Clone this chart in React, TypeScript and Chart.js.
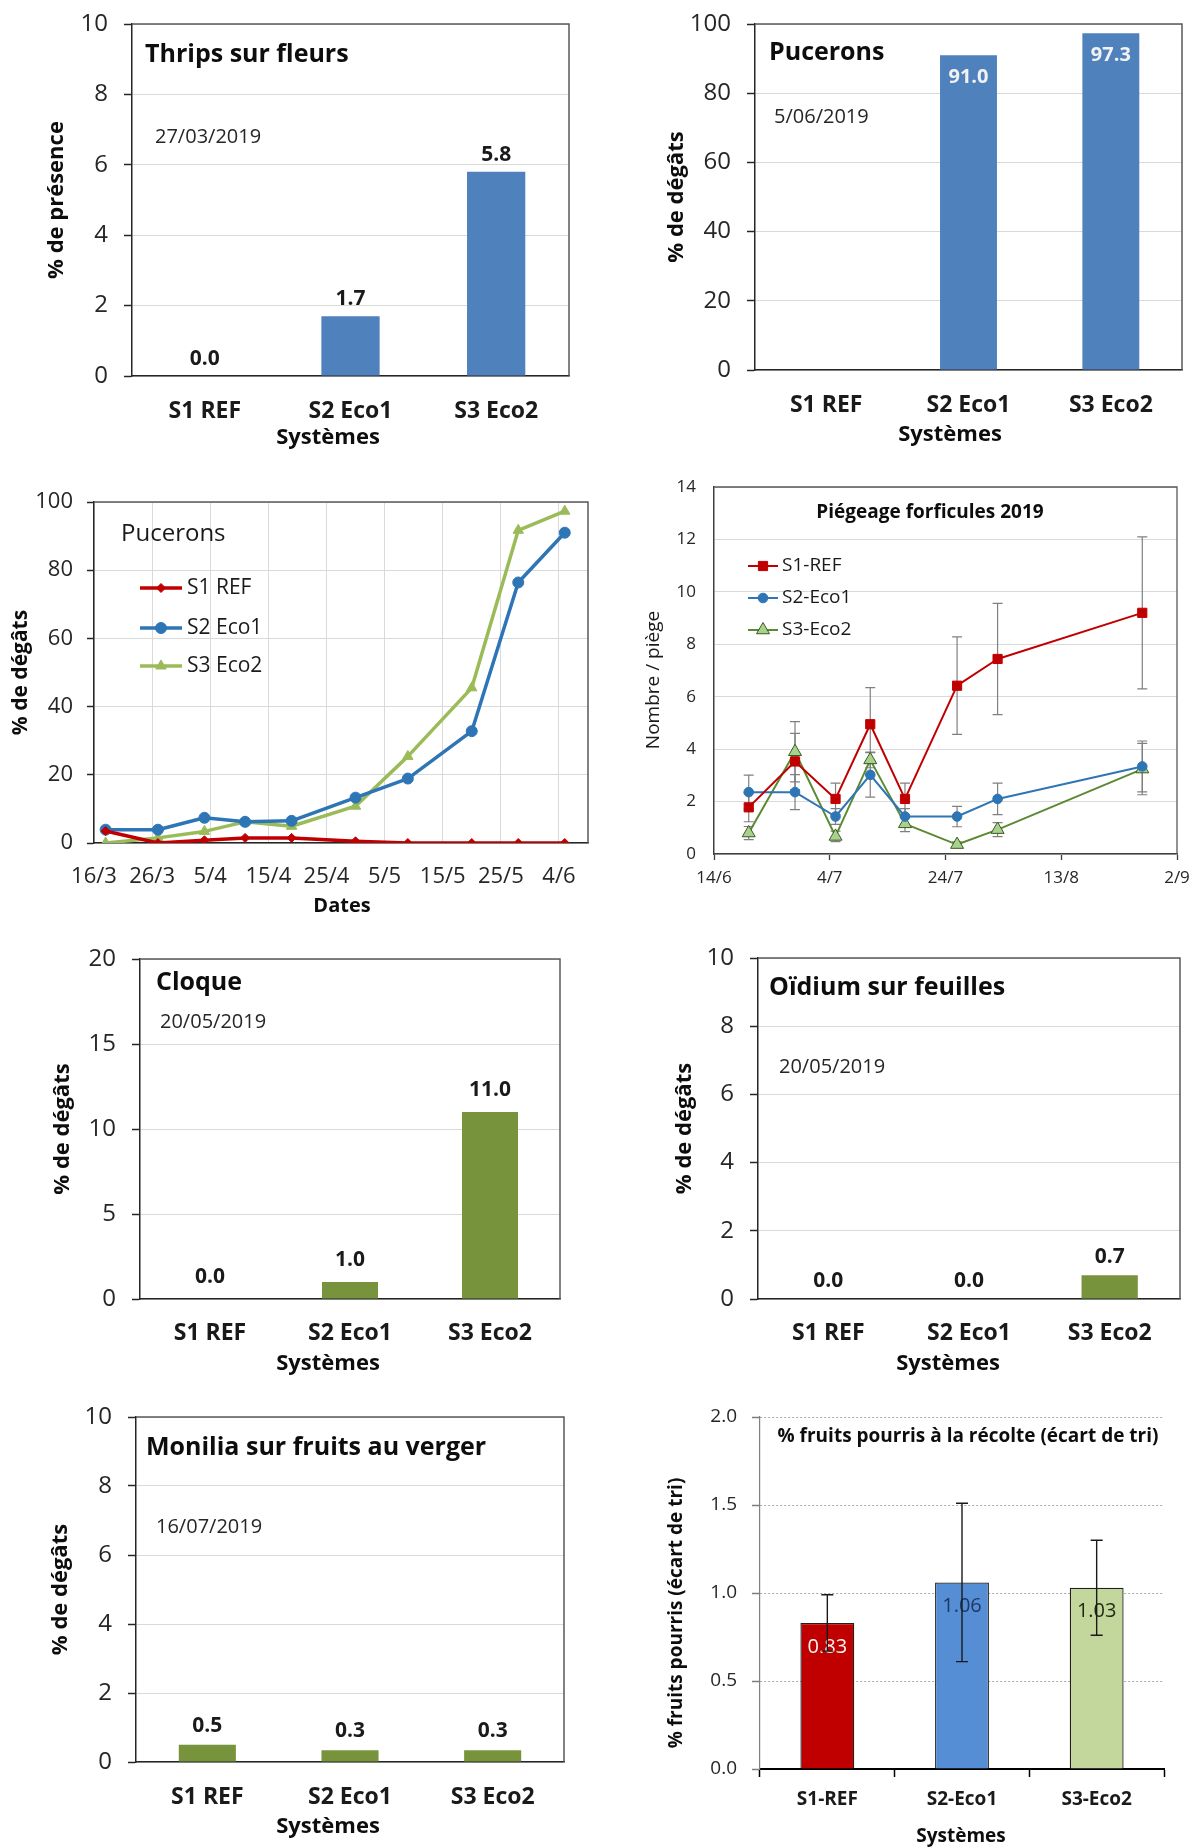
import React, { useEffect, useRef } from 'react';
import { Chart, registerables } from 'chart.js';

Chart.register(...registerables);

const FAMILY = '"Open Sans", "DejaVu Sans", sans-serif';
Chart.defaults.font.family = FAMILY;
Chart.defaults.color = '#262626';

/* ------------------------------------------------------------------ */
/* DATA                                                                */
/* ------------------------------------------------------------------ */
const systemLabels = ['S1 REF', 'S2 Eco1', 'S3 Eco2'];
const systemLabelsHyphen = ['S1-REF', 'S2-Eco1', 'S3-Eco2'];

const thripsValues = [0.0, 1.7, 5.8];
const aphidDamageValues = [0.0, 91.0, 97.3];
const leafCurlValues = [0.0, 1.0, 11.0];
const powderyValues = [0.0, 0.0, 0.7];
const moniliaValues = [0.5, 0.34, 0.34];
const rotValues = [0.83, 1.06, 1.03];
const rotErrors = [0.16, 0.45, 0.27];

const aphidDates = ['2019-03-18', '2019-03-27', '2019-04-04', '2019-04-11', '2019-04-19', '2019-04-30', '2019-05-09', '2019-05-20', '2019-05-28', '2019-06-05'];
const aphidS1Ref = [3.5, 0.0, 0.8, 1.5, 1.5, 0.5, 0.0, 0.0, 0.0, 0.0];
const aphidS2Eco1 = [3.9, 3.9, 7.4, 6.2, 6.5, 13.3, 18.9, 32.8, 76.4, 91.0];
const aphidS3Eco2 = [0.0, 1.5, 3.4, 6.2, 4.9, 10.8, 25.4, 45.5, 91.7, 97.3];
const aphidAxisStart = '2019-03-16';
const aphidAxisEnd = '2019-06-09';
const aphidTickLabels = ['16/3', '26/3', '5/4', '15/4', '25/4', '5/5', '15/5', '25/5', '4/6'];

const earwigDates = ['2019-06-20', '2019-06-28', '2019-07-05', '2019-07-11', '2019-07-17', '2019-07-26', '2019-08-02', '2019-08-27'];
const earwigS1Ref = [1.78, 3.53, 2.1, 4.95, 2.1, 6.42, 7.44, 9.2];
const earwigS1RefErr = [0.55, 1.07, 0.6, 1.4, 0.6, 1.86, 2.12, 2.9];
const earwigS2Eco1 = [2.36, 2.36, 1.43, 3.02, 1.43, 1.43, 2.1, 3.34];
const earwigS2Eco1Err = [0.65, 0.67, 0.3, 0.85, 0.3, 0.39, 0.6, 0.97];
const earwigS3Eco2 = [0.8, 3.9, 0.67, 3.59, 1.15, 0.36, 0.93, 3.24];
const earwigS3Eco2Err = [0.25, 1.15, 0.2, 0.3, 0.3, 0.1, 0.27, 0.98];
const earwigAxisStart = '2019-06-14';
const earwigAxisEnd = '2019-09-02';
const earwigTickLabels = ['14/6', '4/7', '24/7', '13/8', '2/9'];

/* ------------------------------------------------------------------ */
/* HELPERS                                                             */
/* ------------------------------------------------------------------ */
type Cell = { x: number; y: number; w: number; h: number };
type Plot = { l: number; t: number; r: number; b: number };
type TextItem = { text: string; x: number; y: number; size: number; bold?: boolean; color?: string; align?: CanvasTextAlign; rotate?: boolean };

const DAY = 86400000;
const toDay = (iso: string) => {
  const [y, m, d] = iso.split('-').map(Number);
  return Date.UTC(y, m - 1, d) / DAY;
};
const toPoints = (dates: string[], values: number[], start: string) =>
  dates.map((d, i) => ({ x: toDay(d) - toDay(start), y: values[i] }));

const cssFont = (size: number, bold = false) => `${bold ? 'bold' : 'normal'} ${size}px ${FAMILY}`;
const chartFont = (size: number, bold = false) => ({ family: FAMILY, size, weight: bold ? 'bold' : 'normal', lineHeight: 1.2 });

function geometry(cell: Cell, plot: Plot, yTitleCX: number, yTitleSize: number) {
  const lh = yTitleSize * 1.2;
  const padLeft = yTitleCX - cell.x - lh / 2;
  return {
    padding: { left: padLeft, top: plot.t - cell.y, right: cell.x + cell.w - plot.r, bottom: 0 },
    yWidth: plot.l - cell.x - padLeft,
    xHeight: cell.y + cell.h - plot.b,
  };
}

const base = (padding: any) => ({
  responsive: false,
  maintainAspectRatio: false,
  animation: false,
  events: [],
  layout: { padding },
  plugins: { legend: { display: false }, tooltip: { enabled: false } },
});

function drawMarker(ctx: CanvasRenderingContext2D, style: string, x: number, y: number, r: number, fill: string, stroke: string, bw: number) {
  ctx.save();
  ctx.beginPath();
  if (style === 'circle') ctx.arc(x, y, r, 0, Math.PI * 2);
  else if (style === 'rect') {
    const s = r * Math.SQRT1_2;
    ctx.rect(x - s, y - s, 2 * s, 2 * s);
  } else if (style === 'rectRot') {
    ctx.moveTo(x - r, y);
    ctx.lineTo(x, y - r);
    ctx.lineTo(x + r, y);
    ctx.lineTo(x, y + r);
    ctx.closePath();
  } else {
    ctx.moveTo(x, y - r);
    ctx.lineTo(x + 0.866 * r, y + 0.5 * r);
    ctx.lineTo(x - 0.866 * r, y + 0.5 * r);
    ctx.closePath();
  }
  ctx.fillStyle = fill;
  ctx.fill();
  if (bw > 0) {
    ctx.lineWidth = bw;
    ctx.strokeStyle = stroke;
    ctx.stroke();
  }
  ctx.restore();
}

function textPlugin(cell: Cell, items: TextItem[]) {
  return {
    id: 'texts',
    afterDraw(chart: any) {
      const ctx: CanvasRenderingContext2D = chart.ctx;
      items.forEach((t) => {
        ctx.save();
        ctx.font = cssFont(t.size, t.bold);
        ctx.fillStyle = t.color || '#0d0d0d';
        ctx.textAlign = t.rotate ? 'center' : t.align || 'left';
        ctx.textBaseline = 'middle';
        ctx.translate(t.x - cell.x, t.y - cell.y);
        if (t.rotate) ctx.rotate(-Math.PI / 2);
        ctx.fillText(t.text, 0, 0);
        ctx.restore();
      });
    },
  };
}

function framePlugin(color: string, width: number) {
  return {
    id: 'frame',
    beforeDatasetsDraw(chart: any) {
      const { ctx, chartArea: a } = chart;
      ctx.save();
      ctx.strokeStyle = color;
      ctx.lineWidth = width;
      ctx.beginPath();
      ctx.moveTo(a.left, a.top);
      ctx.lineTo(a.right, a.top);
      ctx.lineTo(a.right, a.bottom);
      ctx.stroke();
      ctx.restore();
    },
  };
}

function barValueLabels(o: { decimals: number; inside: boolean; offset: number; size: number; bold: boolean; colors: string[] }) {
  return {
    id: 'barValues',
    afterDatasetsDraw(chart: any) {
      const ctx: CanvasRenderingContext2D = chart.ctx;
      const meta = chart.getDatasetMeta(0);
      const data = chart.data.datasets[0].data as number[];
      ctx.save();
      ctx.font = cssFont(o.size, o.bold);
      ctx.textAlign = 'center';
      ctx.textBaseline = 'middle';
      meta.data.forEach((el: any, i: number) => {
        // labels drawn inside a bar have no room when the bar is empty
        if (o.inside && Number(data[i]) === 0) return;
        const y = o.inside ? el.y + o.offset : el.y - o.offset;
        ctx.fillStyle = o.colors[i % o.colors.length];
        ctx.fillText(Number(data[i]).toFixed(o.decimals), el.x, y);
      });
      ctx.restore();
    },
  };
}

function errorBarPlugin(errors: number[][], color: string, width: number, cap: number, hook: string) {
  const draw = (chart: any) => {
    const ctx: CanvasRenderingContext2D = chart.ctx;
    const ys = chart.scales.y;
    ctx.save();
    ctx.strokeStyle = color;
    ctx.lineWidth = width;
    chart.data.datasets.forEach((ds: any, di: number) => {
      const errs = errors[di];
      if (!errs) return;
      const meta = chart.getDatasetMeta(di);
      meta.data.forEach((el: any, i: number) => {
        const raw = ds.data[i];
        const v = typeof raw === 'number' ? raw : raw.y;
        const e = errs[i];
        if (!e) return;
        const x = el.x;
        const y1 = ys.getPixelForValue(v + e);
        const y2 = ys.getPixelForValue(v - e);
        ctx.beginPath();
        ctx.moveTo(x, y1);
        ctx.lineTo(x, y2);
        ctx.moveTo(x - cap, y1);
        ctx.lineTo(x + cap, y1);
        ctx.moveTo(x - cap, y2);
        ctx.lineTo(x + cap, y2);
        ctx.stroke();
      });
    });
    ctx.restore();
  };
  return { id: 'errorBars', [hook]: draw };
}

function seriesLegend(cell: Cell, g: { x1: number; x2: number; tx: number; ys: number[]; size: number }) {
  return {
    id: 'seriesLegend',
    afterDraw(chart: any) {
      const ctx: CanvasRenderingContext2D = chart.ctx;
      chart.data.datasets.forEach((ds: any, i: number) => {
        const y = g.ys[i] - cell.y;
        const x1 = g.x1 - cell.x;
        const x2 = g.x2 - cell.x;
        ctx.save();
        ctx.strokeStyle = ds.borderColor;
        ctx.lineWidth = ds.borderWidth;
        ctx.beginPath();
        ctx.moveTo(x1, y);
        ctx.lineTo(x2, y);
        ctx.stroke();
        ctx.restore();
        drawMarker(ctx, ds.pointStyle, (x1 + x2) / 2, y, ds.pointRadius, ds.pointBackgroundColor, ds.pointBorderColor, ds.pointBorderWidth);
        ctx.save();
        ctx.font = cssFont(g.size);
        ctx.fillStyle = '#1a1a1a';
        ctx.textAlign = 'left';
        ctx.textBaseline = 'middle';
        ctx.fillText(ds.label, g.tx - cell.x, y);
        ctx.restore();
      });
    },
  };
}

/* ------------------------------------------------------------------ */
/* BAR PANEL BUILDER                                                   */
/* ------------------------------------------------------------------ */
function barConfig(s: any) {
  const g = geometry(s.cell, s.plot, s.yTitleCX, s.yTitleSize);
  const xTl = s.xTickMarks ? 8 : 0;
  const texts: TextItem[] = [...s.texts];
  if (s.yTitleCY != null) {
    texts.push({ text: s.yTitle, x: s.yTitleCX, y: s.yTitleCY, size: s.yTitleSize, bold: true, rotate: true });
  }
  const plugins: any[] = [];
  if (s.frame !== false) plugins.push(framePlugin('#595959', 1.5));
  plugins.push(barValueLabels(s.valueLabels));
  if (s.errors) plugins.push(errorBarPlugin([s.errors], '#1a1a1a', 1.4, 6, 'afterDatasetsDraw'));
  plugins.push(textPlugin(s.cell, texts));

  const yTicks: any = { stepSize: s.yStep, font: chartFont(s.yTickSize), color: '#262626', padding: s.yTickPad };
  if (s.yDecimals != null) yTicks.callback = (v: any) => Number(v).toFixed(s.yDecimals);

  return {
    type: 'bar',
    data: {
      labels: s.labels,
      datasets: [
        {
          data: s.values,
          backgroundColor: s.colors,
          borderColor: s.barBorder || 'rgba(0,0,0,0)',
          borderWidth: s.barBorder ? 1.3 : 0,
          barPercentage: 0.4,
          categoryPercentage: 1,
        },
      ],
    },
    options: {
      ...base(g.padding),
      scales: {
        x: {
          type: 'category',
          offset: true,
          ticks: {
            font: chartFont(s.xTickSize, true),
            color: '#1a1a1a',
            padding: s.xTickCY - s.plot.b - xTl - s.xTickSize * 0.6,
            maxRotation: 0,
            minRotation: 0,
            autoSkip: false,
          },
          grid: s.xTickMarks
            ? { display: true, offset: true, drawOnChartArea: false, drawTicks: true, tickLength: 8, tickColor: '#000', tickWidth: 1.5, color: '#000' }
            : { display: false, drawTicks: false },
          border: { display: true, color: s.xBorderColor || '#262626', width: s.xBorderWidth || 1.5 },
          afterFit: (sc: any) => {
            sc.height = g.xHeight;
            sc.paddingLeft = 0;
            sc.paddingRight = 0;
          },
        },
        y: {
          type: 'linear',
          min: 0,
          max: s.yMax,
          ticks: yTicks,
          grid: {
            color: s.gridColor || '#D9D9D9',
            lineWidth: 1,
            drawTicks: true,
            tickLength: 8,
            tickColor: s.yTickColor || '#262626',
            tickWidth: 1.5,
          },
          border: { display: true, color: s.yBorderColor || '#262626', width: s.yBorderWidth || 1.5, dash: s.gridDash || [] },
          title: { display: s.yTitleCY == null, text: s.yTitle, font: chartFont(s.yTitleSize, true), color: '#0d0d0d', padding: 0 },
          afterFit: (sc: any) => {
            sc.width = g.yWidth;
            sc.paddingTop = 0;
            sc.paddingBottom = 0;
          },
        },
      },
    },
    plugins,
  };
}

/* ------------------------------------------------------------------ */
/* PANELS                                                              */
/* ------------------------------------------------------------------ */
const cellA: Cell = { x: 0, y: 0, w: 595, h: 460 };
const cellB: Cell = { x: 595, y: 0, w: 595, h: 460 };
const cellC: Cell = { x: 0, y: 460, w: 595, h: 460 };
const cellD: Cell = { x: 595, y: 460, w: 595, h: 460 };
const cellE: Cell = { x: 0, y: 920, w: 595, h: 460 };
const cellF: Cell = { x: 595, y: 920, w: 595, h: 460 };
const cellG: Cell = { x: 0, y: 1380, w: 595, h: 468 };
const cellH: Cell = { x: 595, y: 1380, w: 595, h: 468 };

const BLUE = '#4F81BD';
const GREEN = '#77933C';

const excelBarStyle = {
  yTickSize: 24,
  yTickPad: 16,
  yTitleSize: 22,
  xTickSize: 23,
};

function makeThrips() {
  return barConfig({
    ...excelBarStyle,
    cell: cellA,
    plot: { l: 132, t: 24, r: 569, b: 376 },
    labels: systemLabels,
    values: thripsValues,
    colors: [BLUE, BLUE, BLUE],
    yMax: 10,
    yStep: 2,
    yTitle: '% de présence',
    yTitleCX: 57,
    xTickCY: 411,
    valueLabels: { decimals: 1, inside: false, offset: 17, size: 21, bold: true, colors: ['#1a1a1a'] },
    texts: [
      { text: 'Thrips sur fleurs', x: 145, y: 55, size: 25, bold: true },
      { text: '27/03/2019', x: 155, y: 137, size: 20, color: '#262626' },
      { text: 'Systèmes', x: 328, y: 438, size: 22, bold: true, align: 'center' },
    ],
  });
}

function makeAphidBars() {
  return barConfig({
    ...excelBarStyle,
    cell: cellB,
    plot: { l: 755, t: 24, r: 1182, b: 370 },
    labels: systemLabels,
    values: aphidDamageValues,
    colors: [BLUE, BLUE, BLUE],
    yMax: 100,
    yStep: 20,
    yTitle: '% de dégâts',
    yTitleCX: 677,
    xTickCY: 405,
    valueLabels: { decimals: 1, inside: true, offset: 22, size: 20, bold: true, colors: ['#F2F2F2'] },
    texts: [
      { text: 'Pucerons', x: 769, y: 53, size: 25, bold: true },
      { text: '5/06/2019', x: 774, y: 117, size: 20, color: '#262626' },
      { text: 'Systèmes', x: 950, y: 435, size: 22, bold: true, align: 'center' },
    ],
  });
}

function makeLeafCurl() {
  return barConfig({
    ...excelBarStyle,
    cell: cellE,
    plot: { l: 140, t: 959, r: 560, b: 1299 },
    labels: systemLabels,
    values: leafCurlValues,
    colors: [GREEN, GREEN, GREEN],
    yMax: 20,
    yStep: 5,
    yTitle: '% de dégâts',
    yTitleCX: 63,
    xTickCY: 1333,
    valueLabels: { decimals: 1, inside: false, offset: 22, size: 21, bold: true, colors: ['#1a1a1a'] },
    texts: [
      { text: 'Cloque', x: 156, y: 983, size: 25, bold: true },
      { text: '20/05/2019', x: 160, y: 1022, size: 20, color: '#262626' },
      { text: 'Systèmes', x: 328, y: 1364, size: 22, bold: true, align: 'center' },
    ],
  });
}

function makePowdery() {
  return barConfig({
    ...excelBarStyle,
    cell: cellF,
    plot: { l: 758, t: 958, r: 1180, b: 1299 },
    labels: systemLabels,
    values: powderyValues,
    colors: [GREEN, GREEN, GREEN],
    yMax: 10,
    yStep: 2,
    yTitle: '% de dégâts',
    yTitleCX: 685,
    xTickCY: 1333,
    valueLabels: { decimals: 1, inside: false, offset: 18, size: 21, bold: true, colors: ['#1a1a1a'] },
    texts: [
      { text: 'Oïdium sur feuilles', x: 769, y: 988, size: 25, bold: true },
      { text: '20/05/2019', x: 779, y: 1067, size: 20, color: '#262626' },
      { text: 'Systèmes', x: 948, y: 1364, size: 22, bold: true, align: 'center' },
    ],
  });
}

function makeMonilia() {
  return barConfig({
    ...excelBarStyle,
    cell: cellG,
    plot: { l: 136, t: 1417, r: 564, b: 1762 },
    labels: systemLabels,
    values: moniliaValues,
    colors: [GREEN, GREEN, GREEN],
    yMax: 10,
    yStep: 2,
    yTitle: '% de dégâts',
    yTitleCX: 61,
    xTickCY: 1797,
    valueLabels: { decimals: 1, inside: false, offset: 19, size: 21, bold: true, colors: ['#1a1a1a'] },
    texts: [
      { text: 'Monilia sur fruits au verger', x: 146, y: 1448, size: 25, bold: true },
      { text: '16/07/2019', x: 156, y: 1527, size: 20, color: '#262626' },
      { text: 'Systèmes', x: 328, y: 1827, size: 22, bold: true, align: 'center' },
    ],
  });
}

function makeRot() {
  return barConfig({
    cell: cellH,
    plot: { l: 760, t: 1417, r: 1164, b: 1769 },
    labels: systemLabelsHyphen,
    values: rotValues,
    errors: rotErrors,
    colors: ['#C00000', '#558ED5', '#C3D69B'],
    barBorder: '#1f1f1f',
    frame: false,
    yMax: 2,
    yStep: 0.5,
    yDecimals: 1,
    yTickSize: 19,
    yTickPad: 15,
    yTickColor: '#7F7F7F',
    yBorderColor: '#7F7F7F',
    yBorderWidth: 1.2,
    gridColor: '#A6A6A6',
    gridDash: [2, 2],
    yTitle: '% fruits pourris (écart de tri)',
    yTitleSize: 19,
    yTitleCX: 677,
    yTitleCY: 1613,
    xTickSize: 19,
    xTickCY: 1800,
    xTickMarks: true,
    xBorderColor: '#000',
    xBorderWidth: 2,
    valueLabels: { decimals: 2, inside: true, offset: 24, size: 20, bold: false, colors: ['#F5F5F5', '#1F3864', '#1E2A14'] },
    texts: [
      { text: '% fruits pourris à la récolte (écart de tri)', x: 968, y: 1437, size: 19, bold: true, align: 'center' },
      { text: 'Systèmes', x: 961, y: 1837, size: 19, bold: true, align: 'center' },
    ],
  });
}

function makeAphidLines() {
  const cell = cellC;
  const plot: Plot = { l: 94, t: 502, r: 591, b: 843 };
  const g = geometry(cell, plot, 21, 21);
  const common = { borderWidth: 3.5, borderJoinStyle: 'round', borderCapStyle: 'round', pointBorderWidth: 1, tension: 0, fill: false };
  return {
    type: 'line',
    data: {
      datasets: [
        { ...common, label: 'S1 REF', data: toPoints(aphidDates, aphidS1Ref, aphidAxisStart), borderColor: '#C00000', backgroundColor: '#C00000', pointStyle: 'rectRot', pointRadius: 4.5, pointBackgroundColor: '#C00000', pointBorderColor: '#C00000' },
        { ...common, label: 'S2 Eco1', data: toPoints(aphidDates, aphidS2Eco1, aphidAxisStart), borderColor: '#2E75B6', backgroundColor: '#2E75B6', pointStyle: 'circle', pointRadius: 5.5, pointBackgroundColor: '#2E75B6', pointBorderColor: '#2E75B6' },
        { ...common, label: 'S3 Eco2', data: toPoints(aphidDates, aphidS3Eco2, aphidAxisStart), borderColor: '#9BBB59', backgroundColor: '#9BBB59', pointStyle: 'triangle', pointRadius: 6, pointBackgroundColor: '#9BBB59', pointBorderColor: '#9BBB59' },
      ],
    },
    options: {
      ...base(g.padding),
      scales: {
        x: {
          type: 'linear',
          min: 0,
          max: toDay(aphidAxisEnd) - toDay(aphidAxisStart),
          ticks: {
            stepSize: 10,
            includeBounds: false,
            autoSkip: false,
            maxRotation: 0,
            font: chartFont(22),
            color: '#262626',
            padding: 877 - plot.b - 22 * 0.6,
            callback: (_v: any, i: number) => aphidTickLabels[i] ?? '',
          },
          grid: { color: '#D9D9D9', lineWidth: 1, drawTicks: false },
          border: { display: true, color: '#262626', width: 1.5 },
          afterFit: (sc: any) => {
            sc.height = g.xHeight;
            sc.paddingLeft = 0;
            sc.paddingRight = 0;
          },
        },
        y: {
          type: 'linear',
          min: 0,
          max: 100,
          ticks: { stepSize: 20, font: chartFont(22), color: '#262626', padding: 14 },
          grid: { color: '#D9D9D9', lineWidth: 1, drawTicks: true, tickLength: 7, tickColor: '#262626', tickWidth: 1.5 },
          border: { display: true, color: '#262626', width: 1.5 },
          title: { display: true, text: '% de dégâts', font: chartFont(21, true), color: '#0d0d0d', padding: 0 },
          afterFit: (sc: any) => {
            sc.width = g.yWidth;
            sc.paddingTop = 0;
            sc.paddingBottom = 0;
          },
        },
      },
    },
    plugins: [
      framePlugin('#595959', 1.5),
      seriesLegend(cell, { x1: 140, x2: 182, tx: 187, ys: [588, 628, 666], size: 21 }),
      textPlugin(cell, [
        { text: 'Pucerons', x: 121, y: 534, size: 24, color: '#1a1a1a' },
        { text: 'Dates', x: 342, y: 906, size: 20, bold: true, align: 'center' },
      ]),
    ],
  };
}

function makeEarwigs() {
  const cell = cellD;
  const plot: Plot = { l: 714, t: 487, r: 1177, b: 854 };
  const g = geometry(cell, plot, 654, 19);
  const common = { borderWidth: 2, borderJoinStyle: 'round', pointBorderWidth: 1, tension: 0, fill: false };
  return {
    type: 'line',
    data: {
      datasets: [
        { ...common, label: 'S1-REF', data: toPoints(earwigDates, earwigS1Ref, earwigAxisStart), borderColor: '#C00000', backgroundColor: '#C00000', pointStyle: 'rect', pointRadius: 6.5, pointBackgroundColor: '#C00000', pointBorderColor: '#C00000' },
        { ...common, label: 'S2-Eco1', data: toPoints(earwigDates, earwigS2Eco1, earwigAxisStart), borderColor: '#2E75B6', backgroundColor: '#2E75B6', pointStyle: 'circle', pointRadius: 4.8, pointBackgroundColor: '#2E75B6', pointBorderColor: '#2E75B6' },
        { ...common, label: 'S3-Eco2', data: toPoints(earwigDates, earwigS3Eco2, earwigAxisStart), borderColor: '#5B8A32', backgroundColor: '#A9D18E', pointStyle: 'triangle', pointRadius: 7.5, pointBackgroundColor: '#A9D18E', pointBorderColor: '#3A5A20' },
      ],
    },
    options: {
      ...base(g.padding),
      scales: {
        x: {
          type: 'linear',
          min: 0,
          max: toDay(earwigAxisEnd) - toDay(earwigAxisStart),
          ticks: {
            stepSize: 20,
            autoSkip: false,
            maxRotation: 0,
            font: chartFont(17),
            color: '#262626',
            padding: 878 - plot.b - 6 - 17 * 0.6,
            callback: (_v: any, i: number) => earwigTickLabels[i] ?? '',
          },
          grid: { drawOnChartArea: false, drawTicks: true, tickLength: 6, tickColor: '#404040', tickWidth: 1.3, color: '#404040' },
          border: { display: true, color: '#404040', width: 1.5 },
          afterFit: (sc: any) => {
            sc.height = g.xHeight;
            sc.paddingLeft = 0;
            sc.paddingRight = 0;
          },
        },
        y: {
          type: 'linear',
          min: 0,
          max: 14,
          ticks: { stepSize: 2, font: chartFont(17), color: '#262626', padding: 18 },
          grid: { color: '#D9D9D9', lineWidth: 1, drawTicks: false },
          border: { display: true, color: '#404040', width: 1.5 },
          title: { display: false },
          afterFit: (sc: any) => {
            sc.width = g.yWidth;
            sc.paddingTop = 0;
            sc.paddingBottom = 0;
          },
        },
      },
    },
    plugins: [
      framePlugin('#595959', 1.3),
      errorBarPlugin([earwigS1RefErr, earwigS2Eco1Err, earwigS3Eco2Err], '#808080', 1.2, 5, 'beforeDatasetsDraw'),
      seriesLegend(cell, { x1: 748, x2: 778, tx: 782, ys: [566, 598, 630], size: 19 }),
      textPlugin(cell, [
        { text: 'Piégeage forficules 2019', x: 930, y: 513, size: 19, bold: true, align: 'center' },
        { text: 'Nombre / piège', x: 654, y: 680, size: 19, color: '#1a1a1a', rotate: true },
      ]),
    ],
  };
}

const panels: { cell: Cell; make: () => any }[] = [
  { cell: cellA, make: makeThrips },
  { cell: cellB, make: makeAphidBars },
  { cell: cellC, make: makeAphidLines },
  { cell: cellD, make: makeEarwigs },
  { cell: cellE, make: makeLeafCurl },
  { cell: cellF, make: makePowdery },
  { cell: cellG, make: makeMonilia },
  { cell: cellH, make: makeRot },
];

function ChartCanvas({ cell, make }: { cell: Cell; make: () => any }) {
  const ref = useRef<HTMLCanvasElement | null>(null);
  useEffect(() => {
    if (!ref.current) return;
    const chart = new Chart(ref.current, make());
    return () => chart.destroy();
  }, [make]);
  return (
    <canvas
      ref={ref}
      width={cell.w}
      height={cell.h}
      style={{ position: 'absolute', left: cell.x, top: cell.y, width: cell.w, height: cell.h }}
    />
  );
}

export default function App() {
  return (
    <div style={{ position: 'absolute', left: 0, top: 0, width: 1190, height: 1848, background: '#ffffff', overflow: 'hidden' }}>
      {panels.map((p, i) => (
        <ChartCanvas key={i} cell={p.cell} make={p.make} />
      ))}
    </div>
  );
}
